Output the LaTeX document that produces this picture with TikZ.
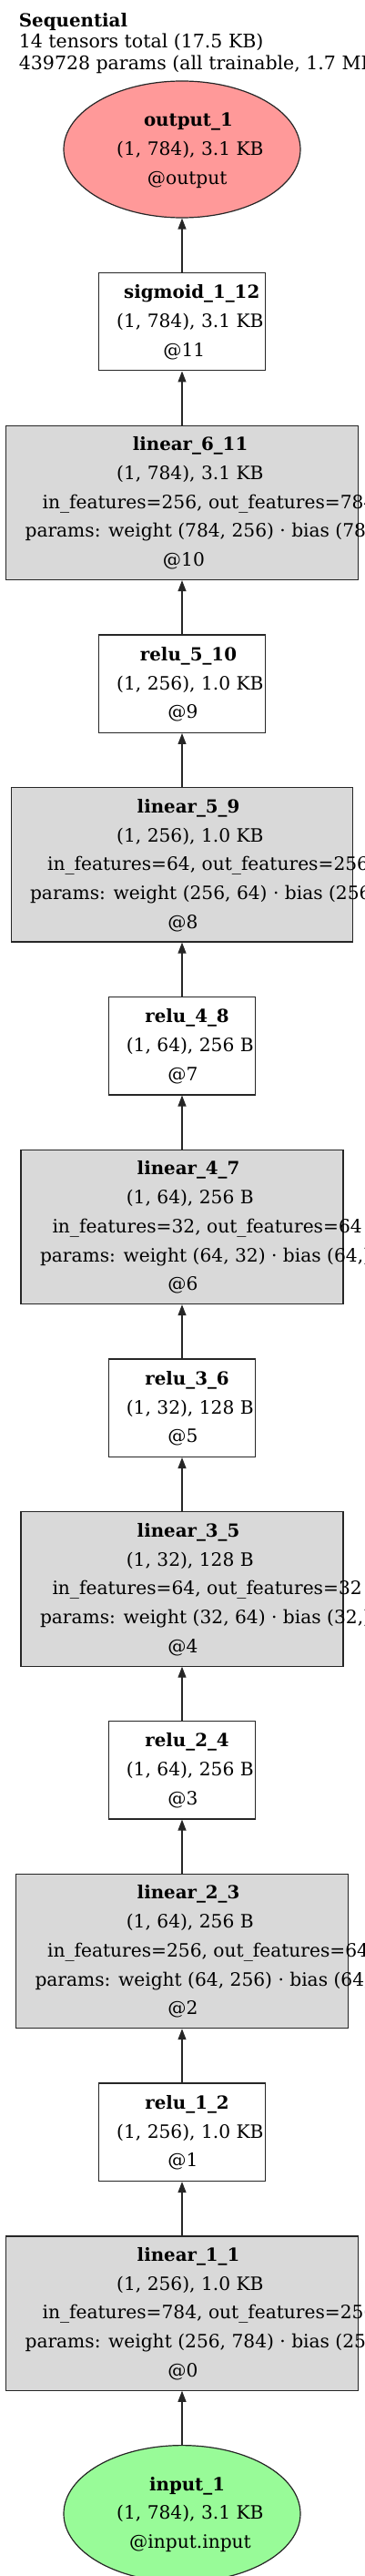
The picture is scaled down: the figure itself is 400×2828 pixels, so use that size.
\documentclass[tikz,border=0pt]{standalone}
\usepackage{fontspec}
\usepackage{calc}
\setmainfont{DejaVu Serif}
\newfontfamily\gvfont{Liberation Serif}
\usetikzlibrary{arrows.meta,positioning,shapes.geometric}
\definecolor{outfill}{RGB}{255,153,153}
\definecolor{infill}{RGB}{152,251,152}
\definecolor{linfill}{RGB}{217,217,217}
\newlength\gvwd
% one label line, centred on its Times width, running on to the right
\newcommand{\gl}[1]{\settowidth{\gvwd}{\gvfont\fontsize{21.9pt}{21.9pt}\selectfont #1}\makebox[\gvwd][l]{\strut #1}}
\newcommand{\gt}[1]{\settowidth{\gvwd}{\gvfont\bfseries\fontsize{21.9pt}{21.9pt}\selectfont #1}\makebox[\gvwd][l]{\strut\bfseries\fontsize{19.8pt}{31.7pt}\selectfont #1}}

\begin{document}
\begin{tikzpicture}[x=1pt,y=1pt,>={Triangle[length=12pt,width=9pt]},node distance=59.26pt,
  gvnode/.style={draw=black!85,line width=1.2pt,inner sep=0pt,align=center,font=\fontsize{20.2pt}{31.7pt}\selectfont},
  lin/.style={gvnode,rectangle,fill=linfill,minimum height=169.2pt},
  act/.style={gvnode,rectangle,fill=white,minimum height=107.4pt},
  io/.style={gvnode,ellipse,minimum width=260pt,minimum height=150pt},
  ttl/.style={inner sep=0pt,align=left,font=\fontsize{20.5pt}{23.3pt}\selectfont},
  edge/.style={->,line width=1.2pt,draw=black!85}]
\useasboundingbox (0,0) rectangle (400,-2828);
\node[ttl,anchor=north west] (title) at (20.7,-13) {\strut{\bfseries\fontsize{19.8pt}{23.3pt}\selectfont Sequential}\\\strut 14 tensors total (17.5 KB)\\\strut 439728 params (all trainable, 1.7 MB)};
\node[io,fill=outfill] (output1) at (200,-164) {\gt{output\_1}\\\gl{(1, 784), 3.1 KB}\\\gl{@output}};
\node[act,minimum width=183.4pt,below=of output1] (sigmoid12) {\gt{sigmoid\_1\_12}\\\gl{(1, 784), 3.1 KB}\\\gl{@11}};
\node[lin,minimum width=386.6pt,below=of sigmoid12] (linear11) {\gt{linear\_6\_11}\\\gl{(1, 784), 3.1 KB}\\\gl{in\_features=256, out\_features=784}\\\gl{params: weight (784, 256) · bias (784,)}\\\gl{@10}};
\node[act,minimum width=183.4pt,below=of linear11] (relu10) {\gt{relu\_5\_10}\\\gl{(1, 256), 1.0 KB}\\\gl{@9}};
\node[lin,minimum width=375.4pt,below=of relu10] (linear9) {\gt{linear\_5\_9}\\\gl{(1, 256), 1.0 KB}\\\gl{in\_features=64, out\_features=256}\\\gl{params: weight (256, 64) · bias (256,)}\\\gl{@8}};
\node[act,minimum width=161.7pt,below=of linear9] (relu8) {\gt{relu\_4\_8}\\\gl{(1, 64), 256 B}\\\gl{@7}};
\node[lin,minimum width=354pt,below=of relu8] (linear7) {\gt{linear\_4\_7}\\\gl{(1, 64), 256 B}\\\gl{in\_features=32, out\_features=64}\\\gl{params: weight (64, 32) · bias (64,)}\\\gl{@6}};
\node[act,minimum width=161.7pt,below=of linear7] (relu6) {\gt{relu\_3\_6}\\\gl{(1, 32), 128 B}\\\gl{@5}};
\node[lin,minimum width=354pt,below=of relu6] (linear5) {\gt{linear\_3\_5}\\\gl{(1, 32), 128 B}\\\gl{in\_features=64, out\_features=32}\\\gl{params: weight (32, 64) · bias (32,)}\\\gl{@4}};
\node[act,minimum width=161.7pt,below=of linear5] (relu4) {\gt{relu\_2\_4}\\\gl{(1, 64), 256 B}\\\gl{@3}};
\node[lin,minimum width=365.7pt,below=of relu4] (linear3) {\gt{linear\_2\_3}\\\gl{(1, 64), 256 B}\\\gl{in\_features=256, out\_features=64}\\\gl{params: weight (64, 256) · bias (64,)}\\\gl{@2}};
\node[act,minimum width=183.4pt,below=of linear3] (relu2) {\gt{relu\_1\_2}\\\gl{(1, 256), 1.0 KB}\\\gl{@1}};
\node[lin,minimum width=386.6pt,below=of relu2] (linear1) {\gt{linear\_1\_1}\\\gl{(1, 256), 1.0 KB}\\\gl{in\_features=784, out\_features=256}\\\gl{params: weight (256, 784) · bias (256,)}\\\gl{@0}};
\node[io,fill=infill,below=of linear1] (input1) {\gt{input\_1}\\\gl{(1, 784), 3.1 KB}\\\gl{@input.input}};
\draw[edge] (sigmoid12) -- (output1);
\draw[edge] (linear11) -- (sigmoid12);
\draw[edge] (relu10) -- (linear11);
\draw[edge] (linear9) -- (relu10);
\draw[edge] (relu8) -- (linear9);
\draw[edge] (linear7) -- (relu8);
\draw[edge] (relu6) -- (linear7);
\draw[edge] (linear5) -- (relu6);
\draw[edge] (relu4) -- (linear5);
\draw[edge] (linear3) -- (relu4);
\draw[edge] (relu2) -- (linear3);
\draw[edge] (linear1) -- (relu2);
\draw[edge] (input1) -- (linear1);
\end{tikzpicture}
\end{document}
